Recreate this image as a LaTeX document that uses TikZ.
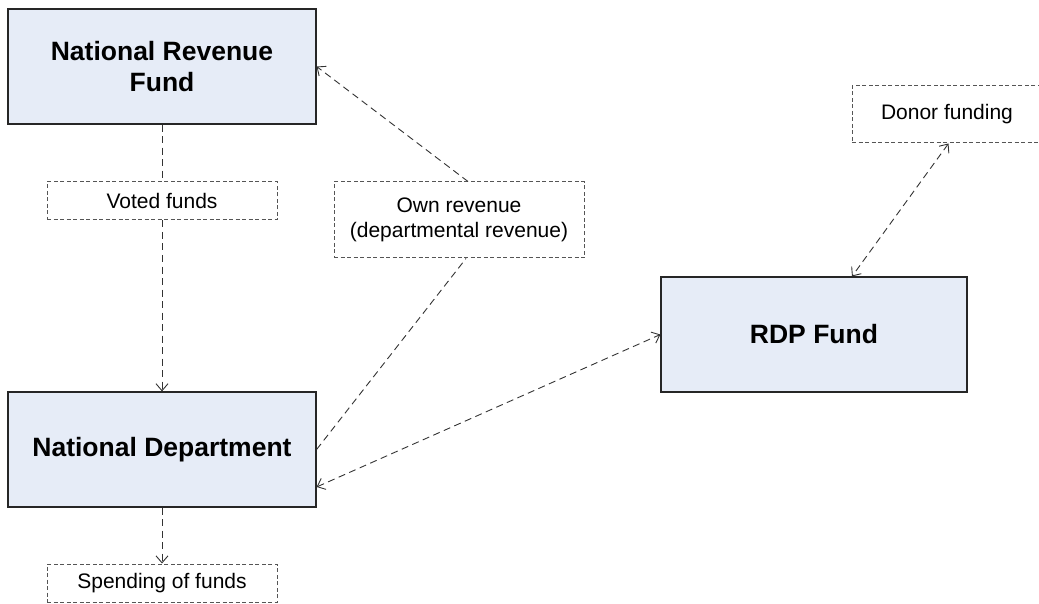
\documentclass[tikz,border=0pt]{standalone}
\usepackage{fontspec}
\setmainfont{Liberation Sans}
\usetikzlibrary{arrows.meta,calc}
\definecolor{boxfill}{HTML}{E6ECF7}
\definecolor{lbl}{HTML}{555555}
\begin{document}
\begin{tikzpicture}[x=1pt,y=-1pt,
  bigbox/.style={draw=black!85,fill=boxfill,line width=1.2pt,rectangle,inner sep=0pt,align=center,
    font=\fontsize{26.5}{31}\selectfont\bfseries},
  lblbox/.style={draw=lbl,dash pattern=on 4pt off 2.5pt,line width=1pt,rectangle,inner sep=0pt,align=center,
    font=\fontsize{21}{25}\selectfont},
  conn/.style={draw=black!80,line width=0.9pt,dash pattern=on 7pt off 4.5pt},
  tip/.style={-{Straight Barb[length=7pt,width=12pt,line width=0.9pt]}},
  tips/.style={{Straight Barb[length=7pt,width=12pt,line width=0.9pt]}-{Straight Barb[length=7pt,width=12pt,line width=0.9pt]}}]
\useasboundingbox (0,0) rectangle (1039,604);
\node[bigbox,minimum width=308pt,minimum height=115pt] (nrf) at (162,66.5) {National Revenue\\Fund};
\node[lblbox,minimum width=230pt,minimum height=38pt] (voted) at (162,201) {Voted funds};
\node[lblbox,minimum width=250pt,minimum height=76pt] (own) at (459,220) {Own revenue\\(departmental revenue)};
\node[lblbox,minimum width=193pt,minimum height=57pt] (donor) at (948.5,114.5) {\hspace*{-3pt}Donor funding};
\node[bigbox,minimum width=306pt,minimum height=115pt] (rdp) at (814,334.5) {RDP Fund};
\node[bigbox,minimum width=308pt,minimum height=115pt] (nd) at (162,449.5) {National Department};
\node[lblbox,minimum width=230pt,minimum height=38pt] (spend) at (162,583) {Spending of funds};
\draw[conn] (nrf.south) -- (voted.north);
\draw[conn,tip] (voted.south) -- (nd.north);
\draw[conn,tip] ($(own.north)+(9,0)$) -- (nrf.east);
\draw[conn] (nd.east) -- ($(own.south)+(7,0)$);
\draw[conn,tips] ($(nd.east)+(0,37.5)$) -- (rdp.west);
\draw[conn,tips] (donor.south) -- ($(rdp.north)+(38,0)$);
\draw[conn,tip] (nd.south) -- (spend.north);
\end{tikzpicture}
\end{document}
